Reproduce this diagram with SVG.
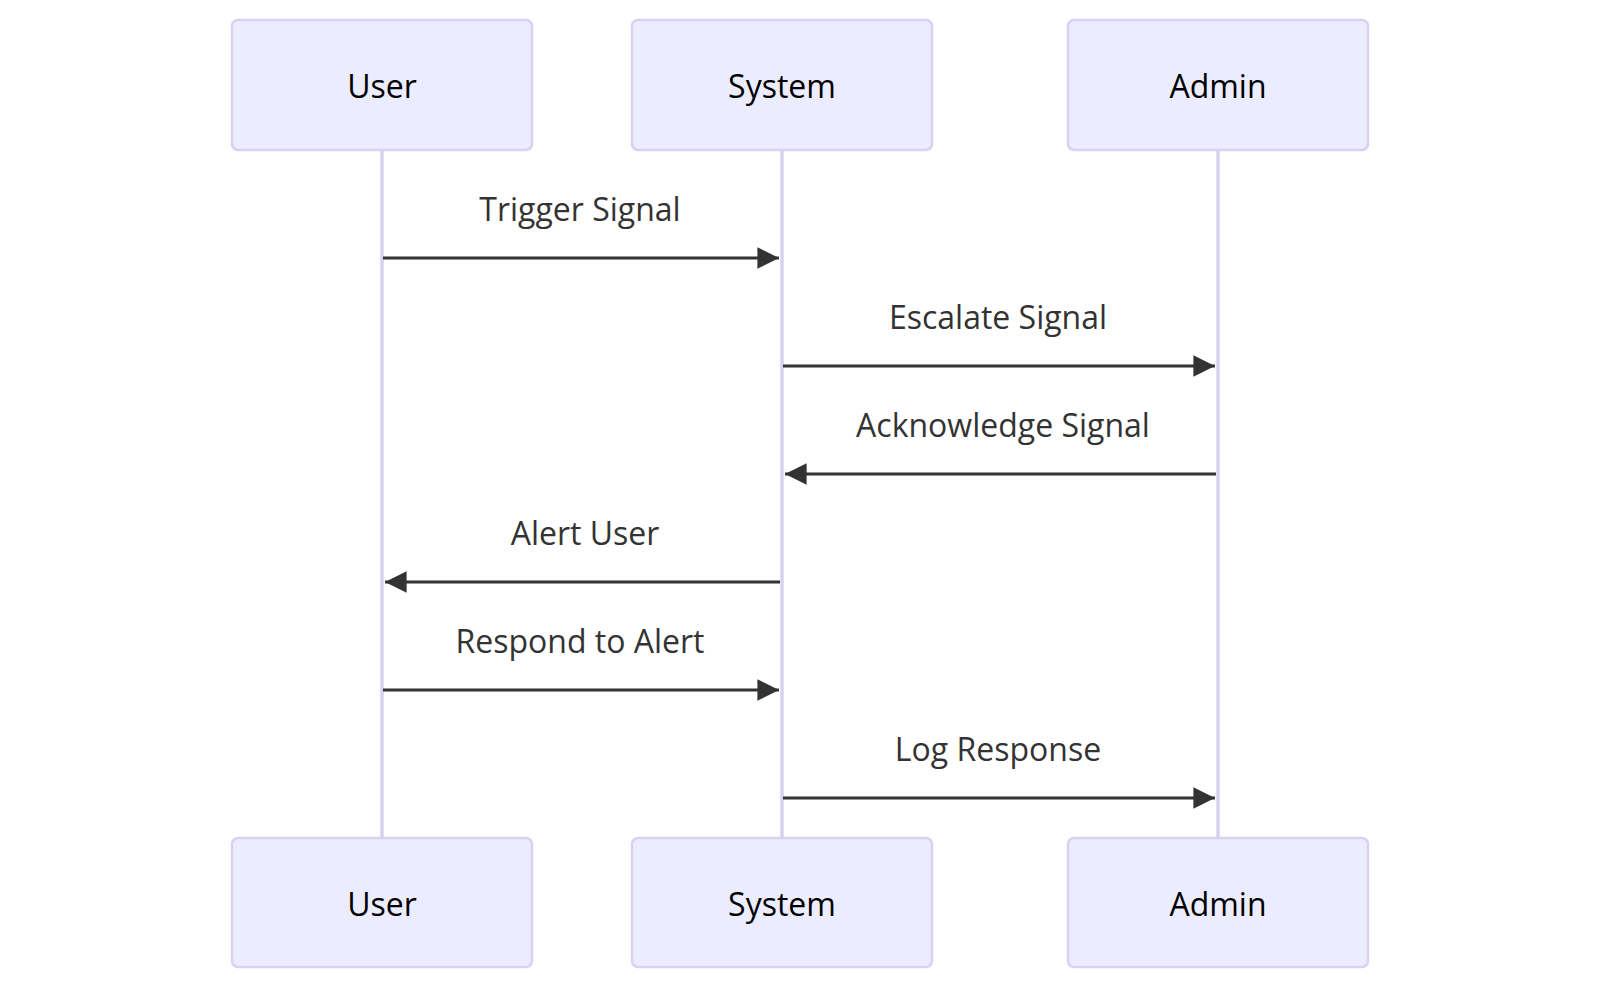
<svg xmlns="http://www.w3.org/2000/svg" width="1600" height="990" viewBox="0 0 1600 990">
<style>
.actor{fill:#ECECFF;stroke:#DAD0F2;stroke-width:2.5}
.atext{font-family:"Open Sans","Noto Sans",sans-serif;font-size:32px;fill:#000;text-anchor:middle;dominant-baseline:central}
.life{stroke:#DAD0F2;stroke-width:3.5}
.msg{stroke:#333;stroke-width:3;fill:none}
.mtext{font-family:"Open Sans","Noto Sans",sans-serif;font-size:32px;fill:#333;text-anchor:middle}
</style>
<defs>
<marker id="ah" viewBox="0 0 12 12" refX="12" refY="6" markerWidth="7.4" markerHeight="7.2" markerUnits="strokeWidth" orient="auto">
<path d="M0,0 L12,6 L0,12 z" fill="#333"/>
</marker>
</defs>
<rect width="1600" height="990" fill="#fff"/>
<g id="lifelines">
<line class="life" x1="382" y1="150" x2="382" y2="838"/>
<line class="life" x1="782" y1="150" x2="782" y2="838"/>
<line class="life" x1="1218" y1="150" x2="1218" y2="838"/>
</g>
<g id="user-top"><rect class="actor" x="232" y="20" width="300" height="130" rx="6"/><text class="atext" x="382" y="85">User</text></g>
<g id="system-top"><rect class="actor" x="632" y="20" width="300" height="130" rx="6"/><text class="atext" x="782" y="85">System</text></g>
<g id="admin-top"><rect class="actor" x="1068" y="20" width="300" height="130" rx="6"/><text class="atext" x="1218" y="85">Admin</text></g>
<g id="user-bottom"><rect class="actor" x="232" y="838" width="300" height="129" rx="6"/><text class="atext" x="382" y="903">User</text></g>
<g id="system-bottom"><rect class="actor" x="632" y="838" width="300" height="129" rx="6"/><text class="atext" x="782" y="903">System</text></g>
<g id="admin-bottom"><rect class="actor" x="1068" y="838" width="300" height="129" rx="6"/><text class="atext" x="1218" y="903">Admin</text></g>
<g id="messages">
<text class="mtext" x="580" y="221">Trigger Signal</text>
<line class="msg" x1="383" y1="258" x2="779" y2="258" marker-end="url(#ah)"/>
<text class="mtext" x="998" y="329">Escalate Signal</text>
<line class="msg" x1="783" y1="366" x2="1215" y2="366" marker-end="url(#ah)"/>
<text class="mtext" x="1003" y="437">Acknowledge Signal</text>
<line class="msg" x1="1216" y1="474" x2="785" y2="474" marker-end="url(#ah)"/>
<text class="mtext" x="585" y="545">Alert User</text>
<line class="msg" x1="780" y1="582" x2="385" y2="582" marker-end="url(#ah)"/>
<text class="mtext" x="580" y="653">Respond to Alert</text>
<line class="msg" x1="383" y1="690" x2="779" y2="690" marker-end="url(#ah)"/>
<text class="mtext" x="998" y="761">Log Response</text>
<line class="msg" x1="783" y1="798" x2="1215" y2="798" marker-end="url(#ah)"/>
</g>
</svg>
